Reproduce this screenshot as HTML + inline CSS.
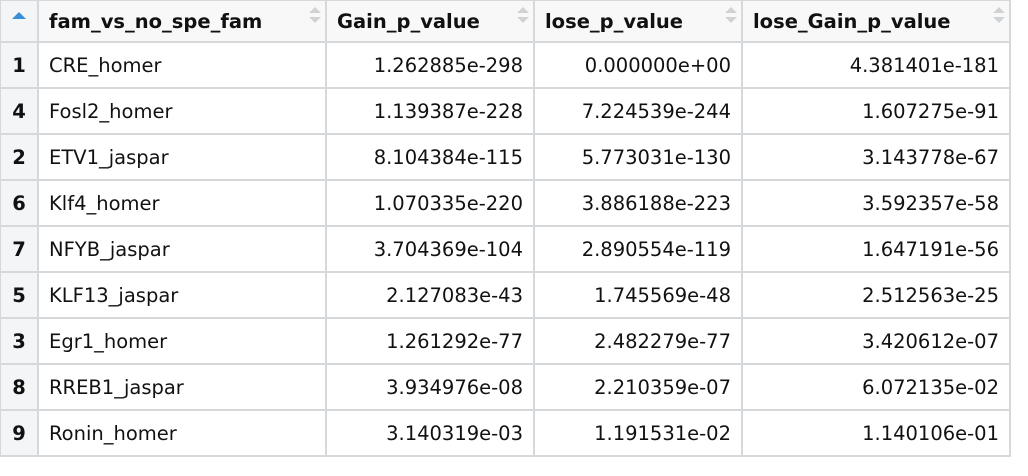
<!DOCTYPE html>
<html><head><meta charset="utf-8"><style>
body{margin:0;width:1028px;height:476px;background:#fff;overflow:hidden;font-family:"DejaVu Sans","Liberation Sans",sans-serif;}
table{border-collapse:collapse;position:absolute;left:-1px;top:-1px;table-layout:fixed;}
td,th{border:2px solid #d6d9dc;font-size:19.5px;color:#111;padding:0 10px;white-space:nowrap;}
th{height:40px;background:#f8f8f9;font-weight:bold;text-align:left;position:relative;}
td{height:44px;}
td.num{text-align:right;}
td.idx,th.idx{background:#f4f5f6;text-align:center;font-weight:bold;padding:0;}
.sort{position:absolute;right:10px;top:6px;width:0;height:0;}
.sort:before{content:"";position:absolute;left:-6px;top:0;border:6px solid transparent;border-bottom:6px solid #d0d3d6;border-top:none;}
.sort:after{content:"";position:absolute;left:-6px;top:10px;border:6px solid transparent;border-top:6px solid #d0d3d6;border-bottom:none;}
.up{display:inline-block;border:7px solid transparent;border-bottom:7px solid #3a8fd8;border-top:none;vertical-align:middle;margin-top:-14px;}
</style></head><body>
<table>
<colgroup><col style="width:38px"><col style="width:288px"><col style="width:208px"><col style="width:208px"><col style="width:268px"></colgroup>
<thead><tr>
<th class="idx"><span class="up"></span></th>
<th>fam_vs_no_spe_fam<span class="sort"></span></th>
<th>Gain_p_value<span class="sort"></span></th>
<th>lose_p_value<span class="sort"></span></th>
<th>lose_Gain_p_value<span class="sort"></span></th>
</tr></thead>
<tbody id="tb"></tbody>
</table>
<script>
const idx=["1","4","2","6","7","5","3","8","9"];
const fam=["CRE_homer","Fosl2_homer","ETV1_jaspar","Klf4_homer","NFYB_jaspar","KLF13_jaspar","Egr1_homer","RREB1_jaspar","Ronin_homer"];
const gain=["1.262885e-298","1.139387e-228","8.104384e-115","1.070335e-220","3.704369e-104","2.127083e-43","1.261292e-77","3.934976e-08","3.140319e-03"];
const lose=["0.000000e+00","7.224539e-244","5.773031e-130","3.886188e-223","2.890554e-119","1.745569e-48","2.482279e-77","2.210359e-07","1.191531e-02"];
const lg=["4.381401e-181","1.607275e-91","3.143778e-67","3.592357e-58","1.647191e-56","2.512563e-25","3.420612e-07","6.072135e-02","1.140106e-01"];
const tb=document.getElementById('tb');
for(let i=0;i<idx.length;i++){
 const tr=document.createElement('tr');
 
 
 const cells=[[idx[i],'idx','row-index'],[fam[i],'','fam-cell'],[gain[i],'num','gain-p-value-cell'],[lose[i],'num','lose-p-value-cell'],[lg[i],'num','lose-gain-p-value-cell']];
 for(const c of cells){
  const td=document.createElement('td');
  td.textContent=c[0];
  if(c[1])td.className=c[1];
  
  
  tr.appendChild(td);
 }
 tb.appendChild(tr);
}
</script>
</body></html>
